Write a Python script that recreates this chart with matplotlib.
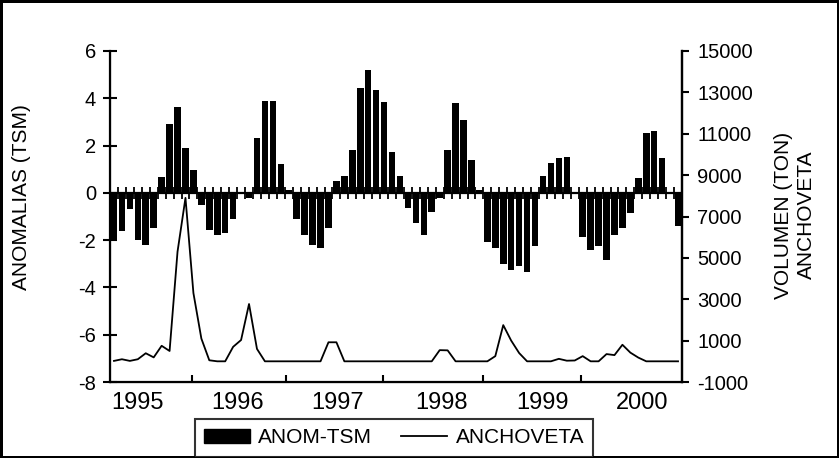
import numpy as np
import matplotlib
matplotlib.use("Agg")
import matplotlib.pyplot as plt
from matplotlib.patches import Patch
from matplotlib.lines import Line2D

plt.rcParams['font.family'] = ['Liberation Sans', 'DejaVu Sans']
plt.rcParams['axes.unicode_minus'] = False

# monthly anomalies of sea surface temperature (72 months, 1995-2000)
anom_tsm = [
    -1.95, -1.6, -0.7, -2.0, -2.2, -1.5, 0.65, 2.9, 3.65, 1.9, 0.97, -0.5,
    -1.55, -1.8, -1.7, -1.1, -0.05, -0.2, 2.3, 3.9, 3.9, 1.2, 0.1, -1.1,
    -1.78, -2.2, -2.35, -1.5, 0.5, 0.7, 1.8, 4.45, 5.2, 4.35, 3.85, 1.72,
    0.7, -0.62, -1.26, -1.78, -0.82, -0.2, 1.8, 3.78, 3.1, 1.4, 0.1, -2.07,
    -2.35, -3.0, -3.25, -3.1, -3.35, -2.25, 0.7, 1.28, 1.47, 1.53, 0.05, -1.85,
    -2.43, -2.25, -2.85, -1.77, -1.5, -0.85, 0.62, 2.55, 2.63, 1.47, 0.05, -1.42,
]

# monthly anchoveta landings (ton)
anchoveta = [
    20, 100, 20, 100, 390, 190, 750, 500, 5300, 7900, 3300, 1100,
    50, 0, 0, 700, 1030, 2770, 600, 0, 0, 0, 0, 0,
    0, 0, 0, 920, 920, 0, 0, 0, 0, 0, 0, 0,
    0, 0, 0, 0, 0, 540, 530, 0, 0, 0, 0, 0,
    250, 1750, 1000, 400, 0, 0, 0, 0, 120, 30, 40, 250,
    0, 0, 350, 300, 800, 420, 180, 0, 0, 0, 0, 0,
]

years = ['1995', '1996', '1997', '1998', '1999', '2000']
year_label_pos = [2.9, 15.5, 28.1, 41.2, 54.0, 66.5]
year_tick_pos = [9.8, 21.7, 33.9, 46.4, 58.8]

x = np.arange(len(anom_tsm))

fig = plt.figure(figsize=(8.39, 4.58), dpi=100)
fig.patch.set_edgecolor('black')
fig.patch.set_linewidth(2.5)

ax = fig.add_axes([110 / 839, 1 - 382 / 458, 572 / 839, 331 / 458])
ax.bar(x, anom_tsm, width=0.82, color='black', zorder=2)
ax.axhline(0, color='black', lw=1.6, zorder=3)
ax.plot(x[:-1] + 0.5, np.zeros(len(x) - 1), ls='none', marker='|',
        ms=9, mew=1.3, color='black', zorder=3)

ax.set_xlim(-0.5, len(x) - 0.5)
ax.set_ylim(-8, 6)
ax.set_yticks(np.arange(-8, 7, 2))
ax.tick_params(axis='y', direction='inout', length=10, width=1.5,
               labelsize=14.5, pad=5)
ax.set_xticks(year_tick_pos)
ax.set_xticklabels([])
ax.set_xticks(year_label_pos, minor=True)
ax.set_xticklabels(years, minor=True)
ax.tick_params(axis='x', which='major', direction='in', length=5, width=1.5)
ax.tick_params(axis='x', which='minor', length=0, labelsize=17, pad=7)
ax.spines['top'].set_visible(False)
for s in ['left', 'right', 'bottom']:
    ax.spines[s].set_linewidth(1.6)

ax2 = ax.twinx()
ax2.plot(x, anchoveta, color='black', lw=1.3)
ax2.set_ylim(-1000, 15000)
ax2.set_yticks(np.arange(-1000, 15001, 2000))
ax2.tick_params(axis='y', direction='out', length=5, width=1.5,
                labelsize=14.5, pad=6)
ax2.spines['top'].set_visible(False)
ax2.spines['right'].set_linewidth(1.6)

fig.text(22 / 839, 1 - 197 / 458, 'ANOMALIAS (TSM)', rotation=90,
         ha='center', va='center', fontsize=15)
fig.text(795 / 839, 1 - 215 / 458, 'VOLUMEN (TON)\nANCHOVETA', rotation=90,
         ha='center', va='center', fontsize=15, linespacing=1.3)

handles = [Patch(facecolor='black', edgecolor='black'),
           Line2D([], [], color='black', lw=1.3)]
leg = fig.legend(handles, ['ANOM-TSM', 'ANCHOVETA'], ncol=2,
                 loc='upper center', bbox_to_anchor=(394 / 839, 1 - 419 / 458),
                 fontsize=15, frameon=True, fancybox=False,
                 edgecolor='black', borderpad=0.45, handlelength=2.2,
                 handletextpad=0.4, columnspacing=1.4, borderaxespad=0)
leg.get_frame().set_linewidth(1.5)

fig.savefig('out.png', dpi=100)
